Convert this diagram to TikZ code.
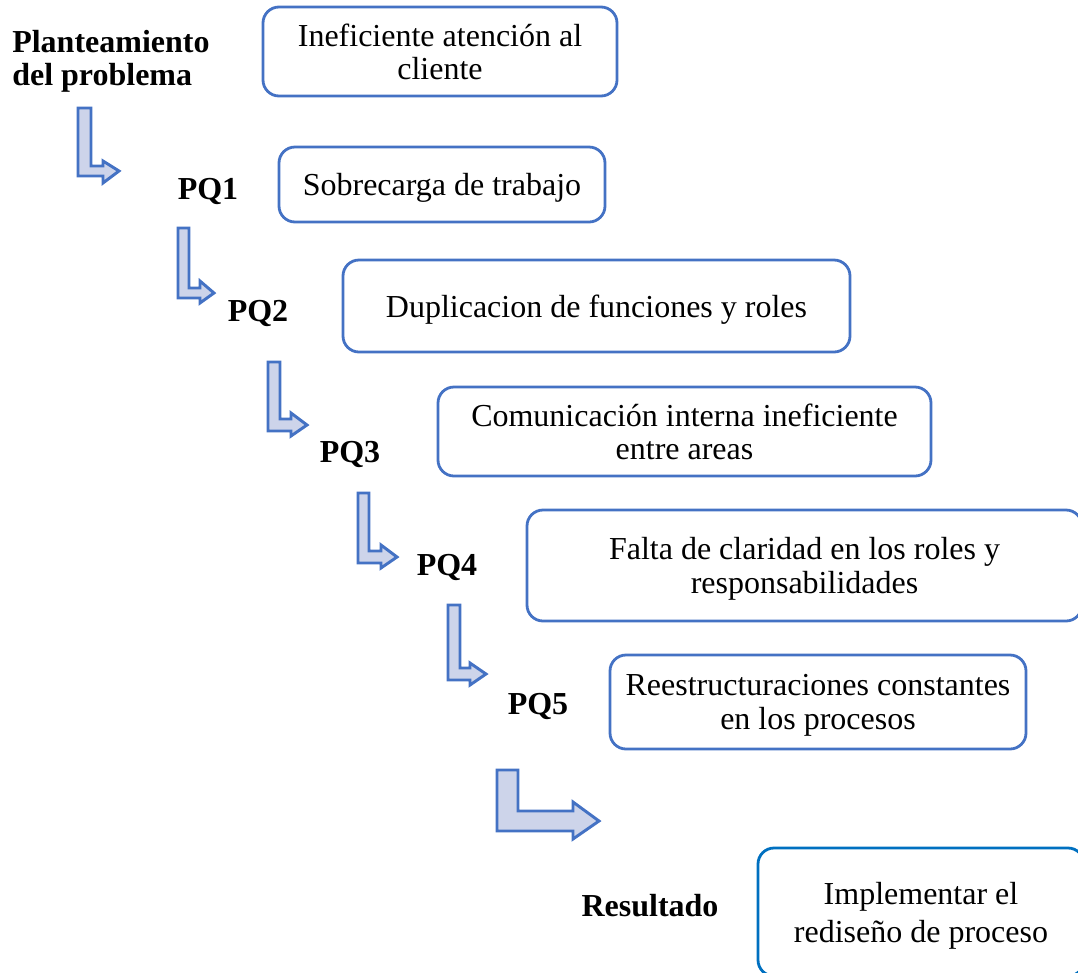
\documentclass[tikz,border=0pt]{standalone}
\usepackage{fontspec}
\setmainfont{Liberation Serif}
\definecolor{boxblue}{HTML}{4472C4}
\definecolor{boxblueb}{HTML}{0070C0}
\definecolor{arrowfill}{HTML}{CDD4EA}
\tikzset{
  box/.style={draw=boxblue, line width=2.1pt, rounded corners=12pt, align=center,
    inner sep=0pt, text depth=0pt, font=\fontsize{24}{25}\selectfont},
  lbl/.style={font=\fontsize{24}{25}\selectfont\bfseries, inner sep=0pt},
  bent/.style={draw=boxblue, fill=arrowfill, line width=2.2pt, line join=miter}
}
% L-shaped block arrow: xl, xr, top, bar top, bottom, head start, head top, head bottom, tip x
\newcommand\bentarrow[9]{%
  \draw[bent] (#1,#3) -- (#2,#3) -- (#2,#4) -- (#6,#4) -- (#6,#7)
    -- (#9,{(#4+#5)/2}) -- (#6,#8) -- (#6,#5) -- (#1,#5) -- cycle;}
\begin{document}
\begin{tikzpicture}[x=0.75pt, y=-0.75pt]
  \useasboundingbox (0,0) rectangle (1078,972);
  \clip (0,0) rectangle (1078,972);

  % problem boxes
  \node[box, minimum width=265.5pt, minimum height=66.75pt] (b1) at (440,51.5)
    {Ineficiente atención al\\cliente};
  \node[box, minimum width=244.5pt, minimum height=56.25pt] (b2) at (442,184.5)
    {Sobrecarga de trabajo};
  \node[box, minimum width=380.25pt, minimum height=69pt] (b3) at (596.5,306)
    {Duplicacion de funciones y roles};
  \node[box, minimum width=369.75pt, minimum height=66.75pt] (b4) at (684.5,431.5)
    {Comunicación interna ineficiente\\entre areas};
  \node[box, minimum width=416.25pt, minimum height=83.25pt] (b5) at (804.5,565.5)
    {Falta de claridad en los roles y\\responsabilidades};
  \node[box, minimum width=312pt, minimum height=70.5pt] (b6) at (818,702)
    {Reestructuraciones constantes\\en los procesos};
  \node[box, draw=boxblueb, minimum width=244.5pt, minimum height=96pt,
    font=\fontsize{24}{28.5}\selectfont] (b7) at (921,912)
    {Implementar el\\rediseño de proceso};

  % step labels
  \node[lbl, anchor=west, align=left] (plant) at (12,61) {Planteamiento\\del problema};
  \node[lbl] (pq1) at (208,191) {PQ1};
  \node[lbl] (pq2) at (258,313) {PQ2};
  \node[lbl] (pq3) at (350,454) {PQ3};
  \node[lbl] (pq4) at (447,567) {PQ4};
  \node[lbl] (pq5) at (538,706) {PQ5};
  \node[lbl] (res) at (650,906) {Resultado};

  % descending bent arrows
  \bentarrow{78}{91}{108}{166}{176}{103}{161}{183}{119}
  \bentarrow{178}{189}{228}{288}{298}{200}{281}{303}{214}
  \bentarrow{268}{280}{362}{419}{431}{291}{413}{436}{307}
  \bentarrow{358}{369}{493}{551}{563}{381}{545}{568}{397}
  \bentarrow{448}{460}{605}{668}{680}{470}{663}{685}{486}
  \bentarrow{497}{518}{770}{811}{831}{573}{802}{839}{599}
\end{tikzpicture}
\end{document}
